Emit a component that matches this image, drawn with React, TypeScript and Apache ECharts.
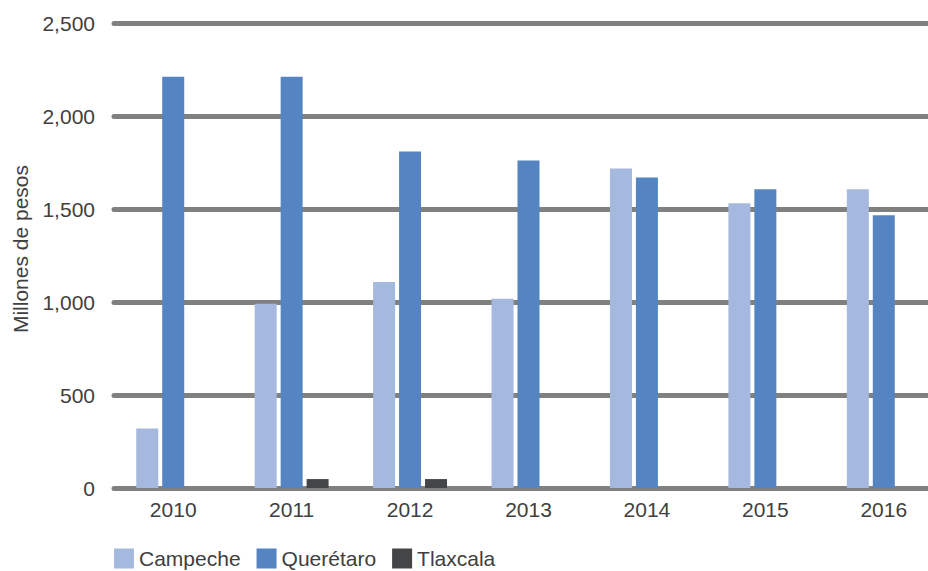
import React, { useEffect, useRef } from "react";
import * as echarts from "echarts";

const years = ["2010", "2011", "2012", "2013", "2014", "2015", "2016"];
const campeche = [320, 990, 1108, 1017, 1718, 1531, 1606];
const queretaro = [2211, 2211, 1809, 1761, 1670, 1606, 1467];
const tlaxcala = [0, 48, 48, 0, 0, 0, 0];
const yTicks = { min: 0, max: 2500, interval: 500 };
const yTitle = "Millones de pesos";

const FONT = "'Liberation Sans', Arial, Helvetica, sans-serif";
const TEXT_COLOR = "#404040";

export default function App() {
  const ref = useRef<HTMLDivElement>(null);
  useEffect(() => {
    if (!ref.current) return;
    const chart = echarts.init(ref.current, undefined, { renderer: "svg" });
    chart.setOption({
      animation: false,
      backgroundColor: "#ffffff",
      textStyle: { fontFamily: FONT },
      grid: { left: 114, top: 23, right: 2, bottom: 83, containLabel: false },
      legend: {
        left: 114,
        top: 548,
        padding: 0,
        itemWidth: 20,
        itemHeight: 20,
        itemGap: 16,
        icon: "rect",
        textStyle: { fontFamily: FONT, fontSize: 21, color: TEXT_COLOR },
        data: ["Campeche", "Querétaro", "Tlaxcala"],
      },
      graphic: [
        {
          type: "text",
          x: 20,
          y: 249,
          rotation: Math.PI / 2,
          style: {
            text: yTitle,
            fontFamily: FONT,
            fontSize: 21,
            fill: TEXT_COLOR,
            align: "center",
            verticalAlign: "middle",
          },
        },
      ],
      xAxis: {
        type: "category",
        data: years,
        boundaryGap: true,
        axisLine: { show: false },
        axisTick: { show: false },
        axisLabel: { fontFamily: FONT, fontSize: 21, color: TEXT_COLOR, margin: 11 },
      },
      yAxis: {
        type: "value",
        min: yTicks.min,
        max: yTicks.max,
        interval: yTicks.interval,
        axisLine: { show: false },
        axisTick: { show: false },
        axisLabel: {
          fontFamily: FONT,
          fontSize: 21,
          color: TEXT_COLOR,
          margin: 19,
          formatter: (v: number) => v.toLocaleString("en-US"),
        },
        splitLine: { show: true, lineStyle: { color: "#808080", width: 5, cap: "round" } },
      },
      series: [
        { name: "Campeche", type: "bar", data: campeche, barWidth: 22, barGap: "18%", itemStyle: { color: "#a5b8de" } },
        { name: "Querétaro", type: "bar", data: queretaro, barWidth: 22, barGap: "18%", itemStyle: { color: "#5584c3" } },
        { name: "Tlaxcala", type: "bar", data: tlaxcala, barWidth: 22, barGap: "18%", itemStyle: { color: "#434547" } },
      ],
    });
    return () => chart.dispose();
  }, []);
  return (
    <div style={{ width: 928, height: 571, position: "absolute", left: 0, top: 0, overflow: "hidden" }}>
      <div ref={ref} style={{ width: 945, height: 571 }} />
    </div>
  );
}
